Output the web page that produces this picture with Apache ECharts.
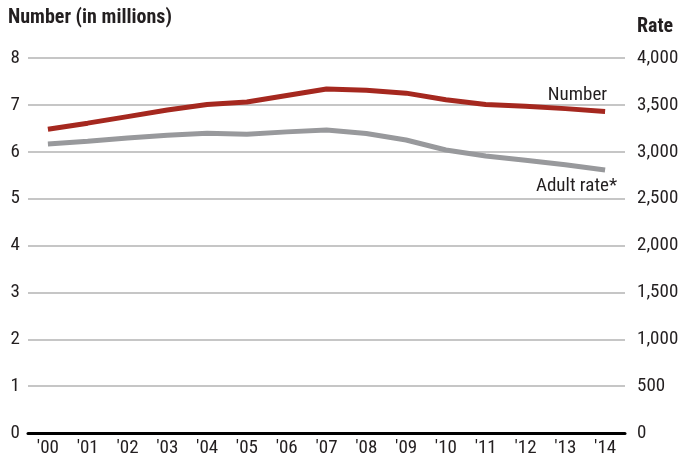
<!DOCTYPE html>
<html><head><meta charset="utf-8">
<script src="https://cdn.jsdelivr.net/npm/echarts@6/dist/echarts.min.js"></script>
<style>html,body{margin:0;padding:0;background:#fff}#c{width:683px;height:459px}</style>
</head><body><div id="c"></div>
<script>
const years = ["'00","'01","'02","'03","'04","'05","'06","'07","'08","'09","'10","'11","'12","'13","'14"];
const numberMillions = [6.48,6.61,6.75,6.89,7.01,7.06,7.20,7.34,7.31,7.25,7.11,7.01,6.97,6.92,6.86];
const adultRate = [3083,3111,3147,3175,3197,3186,3212,3232,3195,3125,3019,2955,2910,2862,2805];

const FONT = "'Roboto Condensed','DejaVu Sans Condensed',sans-serif";

const chart = echarts.init(document.getElementById('c'), null, {renderer:'canvas'});
chart.setOption({
  animation:false,
  backgroundColor:'#fff',
  grid:{left:28,right:58,top:58,bottom:26,containLabel:false},
  graphic:[
    {type:'text',left:8,top:8,style:{text:'Number (in millions)',font:"bold 20px "+FONT,fill:'#231f20'}},
    {type:'text',left:637,top:17,style:{text:'Rate',font:"bold 20px "+FONT,fill:'#231f20'}}
  ],
  xAxis:{type:'category',data:years,boundaryGap:true,
    axisLine:{lineStyle:{color:'#000',width:3}},axisTick:{show:false},
    axisLabel:{color:'#231f20',fontFamily:FONT,fontSize:19,margin:6,interval:0}},
  yAxis:[
    {type:'value',min:0,max:8,interval:1,position:'left',
     axisLine:{show:false},axisTick:{show:false},
     splitLine:{lineStyle:{color:'#b3b3b3',width:1.5}},
     axisLabel:{color:'#231f20',fontFamily:FONT,fontSize:19,margin:8}},
    {type:'value',min:0,max:4000,interval:500,position:'right',
     axisLine:{show:false},axisTick:{show:false},splitLine:{show:false},
     axisLabel:{color:'#231f20',fontFamily:FONT,fontSize:19,margin:12,
       formatter:v=>v.toLocaleString('en-US')}}
  ],
  series:[
    {name:'Number',type:'line',yAxisIndex:0,data:numberMillions,symbol:'none',
     lineStyle:{color:'#a5281f',width:5},z:3,
     endLabel:{show:true,formatter:'Number',color:'#231f20',fontFamily:FONT,fontSize:19,
       align:'right',verticalAlign:'middle',distance:0,offset:[2,-16]}},
    {name:'Adult rate*',type:'line',yAxisIndex:1,data:adultRate,symbol:'none',
     lineStyle:{color:'#98999c',width:5},z:2,
     endLabel:{show:true,formatter:'Adult rate*',color:'#231f20',fontFamily:FONT,fontSize:19,
       align:'right',verticalAlign:'middle',distance:0,offset:[12,16]}}
  ]
});
</script></body></html>
